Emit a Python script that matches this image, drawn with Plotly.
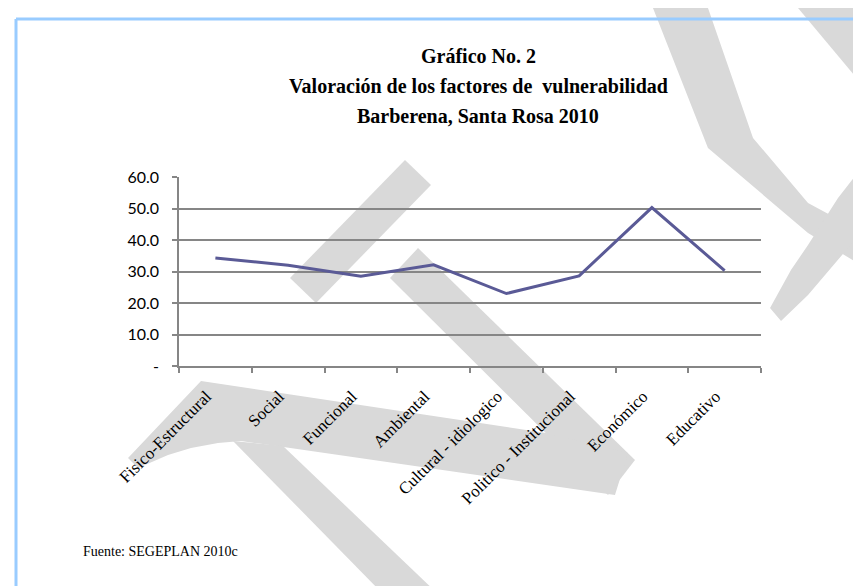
import plotly.graph_objects as go

# datos del grafico
factores = ['Fisico-Estructural', 'Social', 'Funcional', 'Ambiental',
            'Cultural - idiologico', 'Politico - Institucional', 'Económico', 'Educativo']
valoracion = [34.3, 32.0, 28.5, 32.1, 23.0, 28.6, 50.3, 30.3]
y_ticks = [0, 10, 20, 30, 40, 50, 60]
y_labels = ['-', '10.0', '20.0', '30.0', '40.0', '50.0', '60.0']

titulo = ['Gráfico No. 2',
          'Valoración de los factores de  vulnerabilidad',
          'Barberena, Santa Rosa 2010']
fuente = 'Fuente: SEGEPLAN 2010c'

W, H = 861, 586
ML, MR, MT, MB = 171, 108, 169, 228


def px(x, y):
    # pixel -> paper coords
    return (x - ML) / (W - ML - MR), (H - MB - y) / (H - MT - MB)


def path(pts):
    s = []
    for i, (x, y) in enumerate(pts):
        a, b = px(x, y)
        s.append(('M' if i == 0 else 'L') + f'{a:.4f},{b:.4f}')
    return ' '.join(s) + ' Z'


# marca de agua gris (aprox.)
marca = [
    [(645, 0), (700, 0), (745, 130), (800, 195), (861, 228), (861, 262), (800, 225), (700, 140)],
    [(790, 0), (845, 0), (861, 22), (861, 85)],
    [(861, 150), (830, 190), (800, 237), (783, 262), (762, 300), (773, 313), (800, 287), (840, 240), (861, 215)],
    [(282, 270), (397, 152), (423, 177), (308, 295)],
    [(410, 240), (627, 452), (600, 487), (382, 270)],
    [(193, 373), (538, 425), (620, 445), (607, 487), (233, 433), (210, 435), (183, 440), (160, 447), (130, 460), (120, 450)],
    [(225, 433), (275, 438), (430, 586), (375, 586)],
]

fig = go.Figure()
fig.add_trace(go.Scatter(x=factores, y=valoracion, mode='lines',
                         line=dict(color='#5A5A96', width=3), hoverinfo='skip'))

shapes = [dict(type='path', path=path(p), xref='paper', yref='paper', layer='below',
               fillcolor='#D9D9D9', line=dict(width=0)) for p in marca]

# borde azul
x0, y0 = px(8, 11)
x1, y1 = px(W, 11)
shapes.append(dict(type='line', xref='paper', yref='paper', x0=x0, y0=y0, x1=x1, y1=y1,
                   line=dict(color='#99CCFF', width=3)))
x2, y2 = px(8, H)
shapes.append(dict(type='line', xref='paper', yref='paper', x0=x0, y0=y0, x1=x2, y1=y2,
                   line=dict(color='#99CCFF', width=3)))

annotations = []
for i, t in enumerate(titulo):
    ax, ay = px(470, 48 + 30 * i)
    annotations.append(dict(text='<b>' + t + '</b>', x=ax, y=ay, xref='paper', yref='paper',
                            showarrow=False, xanchor='center', yanchor='middle',
                            font=dict(family='Liberation Serif', size=20, color='black')))
fx, fy = px(73, 543)
annotations.append(dict(text=fuente, x=fx, y=fy, xref='paper', yref='paper', showarrow=False,
                        xanchor='left', yanchor='middle',
                        font=dict(family='Liberation Serif', size=14, color='black')))

fig.update_layout(
    width=W, height=H,
    margin=dict(l=ML, r=MR, t=MT, b=MB, pad=0),
    paper_bgcolor='white', plot_bgcolor='rgba(0,0,0,0)',
    showlegend=False,
    shapes=shapes, annotations=annotations,
    xaxis=dict(range=[-0.5, 7.5], showgrid=False, showline=True, linecolor='#868686', linewidth=1.5,
               ticks='outside', ticklen=5, tickcolor='#868686', tickwidth=1.5,
               tickson='boundaries', tickangle=-45, ticklabelstandoff=12, ticklabelshift=-9,
               tickfont=dict(family='Liberation Serif', size=17, color='black')),
    yaxis=dict(range=[0, 60], tickvals=y_ticks, ticktext=y_labels,
               showgrid=True, gridcolor='#868686', gridwidth=1.5, zeroline=False,
               showline=True, linecolor='#868686', linewidth=1.5,
               ticks='outside', ticklen=5, tickcolor='#868686', tickwidth=1.5,
               ticklabelstandoff=10,
               tickfont=dict(family='Lato', size=16, color='black')),
)

fig.write_html('out.html')
